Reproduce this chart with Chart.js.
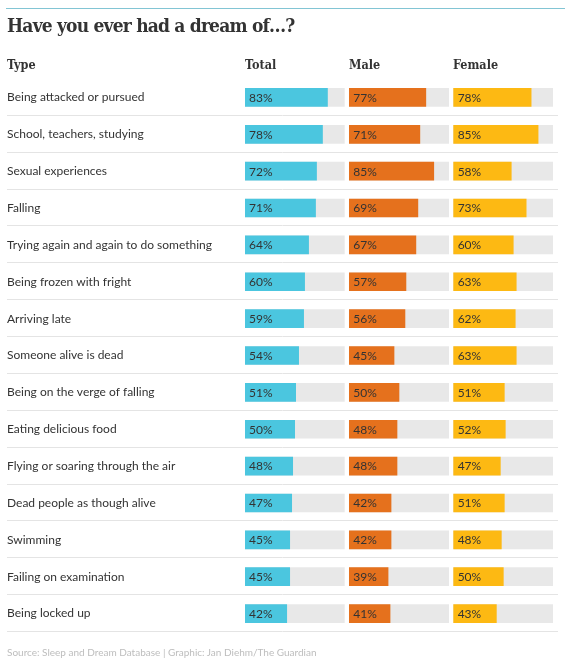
<!DOCTYPE html>
<html>
<head>
<meta charset="utf-8">
<script src="https://cdn.jsdelivr.net/npm/chart.js@4.4.1/dist/chart.umd.min.js"></script>
<style>
  html, body { margin: 0; padding: 0; background: #fff; }
  body { width: 565px; height: 665px; position: relative; overflow: hidden; }
  #rule { position: absolute; left: 6px; right: 0; top: 8px; height: 1px; background: #82c5d4; }
  #title { position: absolute; left: 7px; top: 14px; margin: 0; font: bold 19px/22px 'DejaVu Serif Condensed', 'DejaVu Serif', serif; letter-spacing: -0.8px; color: #333; white-space: nowrap; }
  .hdr { position: absolute; top: 57px; font: bold 12.5px/15px 'DejaVu Serif Condensed', 'DejaVu Serif', serif; color: #333; white-space: nowrap; }
  #source { position: absolute; left: 7px; top: 646px; font: 10px/12px Lato, sans-serif; color: #bdbdbd; white-space: nowrap; }
  #wrap { position: absolute; left: 0; top: 0; width: 565px; height: 665px; }
</style>
</head>
<body>
<div id="wrap"><canvas id="c" width="565" height="665"></canvas></div>
<div id="rule"></div>
<h1 id="title">Have you ever had a dream of…?</h1>
<div class="hdr" style="left:7px">Type</div>
<div class="hdr" style="left:245px">Total</div>
<div class="hdr" style="left:349px">Male</div>
<div class="hdr" style="left:453px">Female</div>
<div id="source">Source: Sleep and Dream Database | Graphic: Jan Diehm/The Guardian</div>
<script>
// ---- data ----
const categories = [
  "Being attacked or pursued",
  "School, teachers, studying",
  "Sexual experiences",
  "Falling",
  "Trying again and again to do something",
  "Being frozen with fright",
  "Arriving late",
  "Someone alive is dead",
  "Being on the verge of falling",
  "Eating delicious food",
  "Flying or soaring through the air",
  "Dead people as though alive",
  "Swimming",
  "Failing on examination",
  "Being locked up"
];
const totalValues  = [83, 78, 72, 71, 64, 60, 59, 54, 51, 50, 48, 47, 45, 45, 42];
const maleValues   = [77, 71, 85, 69, 67, 57, 56, 45, 50, 48, 48, 42, 42, 39, 41];
const femaleValues = [78, 85, 58, 73, 60, 63, 62, 63, 51, 52, 47, 51, 48, 50, 43];
const seriesNames  = ["Total", "Male", "Female"];

// ---- layout / style ----
const COL_OFFSETS = [0, 105, 210];
const COL_SPAN = 100;
const X_MAX = 310;
const COLORS = ["#4bc6df", "#e5711d", "#fdb913"];
const TRACK = "#e8e8e8";

const series = [totalValues, maleValues, femaleValues];

const valueSets = series.map((vals, k) => ({
  label: seriesNames[k],
  data: vals.map(v => [COL_OFFSETS[k], COL_OFFSETS[k] + v]),
  backgroundColor: COLORS[k],
  grouped: false,
  barThickness: 18,
  borderWidth: 0,
  order: 0,
  _values: vals
}));
const trackSets = series.map((vals, k) => ({
  label: seriesNames[k] + " track",
  data: vals.map(() => [COL_OFFSETS[k], COL_OFFSETS[k] + COL_SPAN]),
  backgroundColor: TRACK,
  grouped: false,
  barThickness: 18,
  borderWidth: 0,
  order: 1
}));

const rowLines = {
  id: 'rowLines',
  beforeDatasetsDraw(chart) {
    const y = chart.scales.y, ctx = chart.ctx;
    const band = (chart.chartArea.bottom - chart.chartArea.top) / categories.length;
    ctx.save();
    ctx.strokeStyle = '#e4e4e4';
    ctx.lineWidth = 1;
    categories.forEach((_, i) => {
      const py = Math.round(y.getPixelForValue(i) + band / 2) - 0.5;
      ctx.beginPath();
      ctx.moveTo(7, py);
      ctx.lineTo(558, py);
      ctx.stroke();
    });
    ctx.restore();
  }
};

const barText = {
  id: 'barText',
  afterDatasetsDraw(chart) {
    const ctx = chart.ctx;
    ctx.save();
    ctx.font = "12px Lato, sans-serif";
    ctx.fillStyle = "#333";
    ctx.textAlign = "left";
    ctx.textBaseline = "middle";
    chart.data.datasets.forEach((ds, di) => {
      if (!ds._values) return;
      chart.getDatasetMeta(di).data.forEach((el, i) => {
        ctx.fillText(ds._values[i] + "%", Math.min(el.base, el.x) + 4, el.y + 0.5);
      });
    });
    ctx.restore();
  }
};

new Chart(document.getElementById('c'), {
  type: 'bar',
  data: { labels: categories, datasets: [...valueSets, ...trackSets] },
  options: {
    indexAxis: 'y',
    responsive: false,
    animation: false,
    layout: { padding: { left: 7, top: 79, right: 12, bottom: 33 } },
    plugins: { legend: { display: false }, tooltip: { enabled: false }, title: { display: false } },
    scales: {
      x: { type: 'linear', display: false, min: 0, max: X_MAX },
      y: {
        type: 'category',
        offset: true,
        grid: { display: false },
        border: { display: false },
        ticks: { crossAlign: 'far', padding: 0, color: '#333', font: { family: 'Lato', size: 12 } },
        afterFit(scale) { scale.width = 238; }
      }
    }
  },
  plugins: [rowLines, barText]
});
</script>
</body>
</html>
